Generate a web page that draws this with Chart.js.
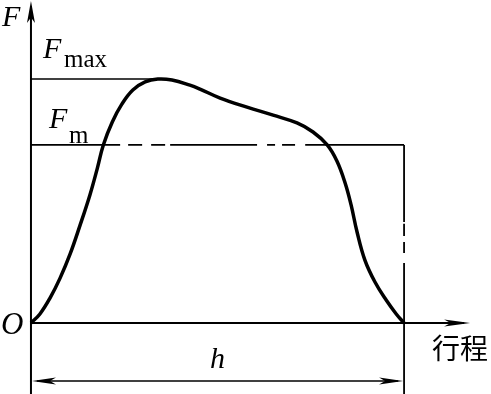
<!DOCTYPE html>
<html>
<head>
<meta charset="utf-8">
<script src="https://cdn.jsdelivr.net/npm/chart.js@4"></script>
<style>
  html, body { margin: 0; background: #fff; }
  #wrap { width: 491px; height: 394px; }
</style>
</head>
<body>
<div id="wrap"><canvas id="myChart"></canvas></div>
<script>
// stroke position (h = 1) and press force (Fmax = 1)
const stroke = [0, 0.024, 0.051, 0.078, 0.105, 0.131, 0.158, 0.178, 0.194, 0.218, 0.244, 0.273, 0.306, 0.340, 0.378, 0.426, 0.453, 0.507, 0.579, 0.649, 0.713, 0.756, 0.794, 0.820, 0.842, 0.858, 0.874, 0.895, 0.922, 0.952, 0.979, 1.0];
const force  = [0, 0.037, 0.102, 0.184, 0.283, 0.398, 0.525, 0.635, 0.730, 0.824, 0.898, 0.955, 0.988, 1.0, 0.996, 0.975, 0.959, 0.922, 0.885, 0.852, 0.820, 0.783, 0.730, 0.664, 0.574, 0.484, 0.373, 0.258, 0.168, 0.094, 0.037, 0];

const h = 1;
const fMax = 1;
const fM = 0.73;
const peakX = 0.36;

// where the Fm line and the right edge line break into dashes
const fmBreaks = [0, 0.239, 0.373, 0.606, 0.735, h];
const fmDash = [[], [0, 8, 14, 9, 14, 60], [], [0, 10, 8, 7, 13, 60], []];
const edgeBreaks = [fM, 0.443, 0.246, -0.3];
const edgeDash = [[], [0, 11, 10, 6, 11, 40], []];

const xMin = -0.083, xMax = 1.233, yMin = -0.291, yMax = 1.324;

const curve = stroke.map((x, i) => ({ x: x, y: force[i] }));

function arrow(c, tx, ty, dx, dy, len, half) {
  const bx = tx - dx * len, by = ty - dy * len;
  const nx = -dy, ny = dx;
  c.beginPath();
  c.moveTo(tx, ty);
  c.lineTo(bx + nx * half, by + ny * half);
  c.lineTo(tx - dx * len * 0.75, ty - dy * len * 0.75);
  c.lineTo(bx - nx * half, by - ny * half);
  c.closePath();
  c.fill();
}

const axesPlugin = {
  id: 'axesPlugin',
  beforeDatasetsDraw(chart) {
    const c = chart.ctx, xs = chart.scales.x, ys = chart.scales.y;
    const x0 = xs.getPixelForValue(0), y0 = ys.getPixelForValue(0);
    c.save();
    c.strokeStyle = '#000';
    c.fillStyle = '#000';
    c.lineWidth = 2;
    // y axis, running down past O as an extension line
    c.beginPath();
    c.moveTo(x0, ys.getPixelForValue(yMin));
    c.lineTo(x0, ys.getPixelForValue(yMax) + 6);
    c.stroke();
    arrow(c, x0, ys.getPixelForValue(yMax) + 1, 0, -1, 22, 4);
    // x axis
    const xEnd = xs.getPixelForValue(1.177);
    c.beginPath();
    c.moveTo(x0, y0);
    c.lineTo(xEnd - 6, y0);
    c.stroke();
    arrow(c, xEnd, y0, 1, 0, 26, 3.5);
    // dimension line h
    const yd = ys.getPixelForValue(-0.238);
    const xh = xs.getPixelForValue(h);
    c.lineWidth = 1.6;
    c.beginPath();
    c.moveTo(x0 + 6, yd);
    c.lineTo(xh - 6, yd);
    c.stroke();
    arrow(c, x0 + 1, yd, -1, 0, 24, 3.5);
    arrow(c, xh - 1, yd, 1, 0, 24, 3.5);
    c.restore();
  },
  afterDatasetsDraw(chart) {
    const c = chart.ctx, xs = chart.scales.x, ys = chart.scales.y;
    const x0 = xs.getPixelForValue(0), y0 = ys.getPixelForValue(0);
    const serif = '"Liberation Serif", "DejaVu Serif", serif';
    c.save();
    c.fillStyle = '#000';
    c.textBaseline = 'alphabetic';
    c.textAlign = 'left';
    c.font = 'italic 30px ' + serif;
    c.fillText('F', x0 - 29, 26);
    const yMaxPx = ys.getPixelForValue(fMax);
    c.fillText('F', x0 + 12, yMaxPx - 21);
    c.font = '25px ' + serif;
    c.fillText('max', x0 + 33, yMaxPx - 12);
    const yMPx = ys.getPixelForValue(fM);
    c.font = 'italic 30px ' + serif;
    c.fillText('F', x0 + 18, yMPx - 17);
    c.font = '25px ' + serif;
    c.fillText('m', x0 + 38, yMPx - 2);
    c.font = 'italic 31px ' + serif;
    c.fillText('O', x0 - 30, y0 + 11);
    c.font = 'italic 30px ' + serif;
    c.textAlign = 'center';
    c.fillText('h', xs.getPixelForValue(h / 2), y0 + 45);
    c.textAlign = 'left';
    c.font = '28px "Noto Sans CJK SC", sans-serif';
    c.fillText('行程', xs.getPixelForValue(1.075), y0 + 36);
    c.restore();
  }
};

new Chart(document.getElementById('myChart'), {
  type: 'scatter',
  data: {
    datasets: [
      {
        label: 'F',
        data: curve,
        showLine: true,
        borderColor: '#000',
        borderWidth: 3.5,
        pointRadius: 0,
        tension: 0.4
      },
      {
        label: 'Fmax',
        data: [{ x: 0, y: fMax }, { x: peakX, y: fMax }],
        showLine: true,
        borderColor: '#000',
        borderWidth: 1.6,
        pointRadius: 0
      },
      {
        label: 'Fm',
        data: fmBreaks.map(x => ({ x: x, y: fM })),
        showLine: true,
        borderColor: '#000',
        borderWidth: 1.6,
        pointRadius: 0,
        segment: { borderDash: ctx => fmDash[ctx.p0DataIndex] }
      },
      {
        label: 'edge',
        data: edgeBreaks.map(y => ({ x: h, y: y })),
        showLine: true,
        borderColor: '#000',
        borderWidth: 1.8,
        pointRadius: 0,
        segment: { borderDash: ctx => edgeDash[ctx.p0DataIndex] }
      }
    ]
  },
  options: {
    responsive: true,
    maintainAspectRatio: false,
    animation: false,
    layout: { padding: 0 },
    plugins: { legend: { display: false }, tooltip: { enabled: false } },
    scales: {
      x: { type: 'linear', min: xMin, max: xMax, display: false },
      y: { type: 'linear', min: yMin, max: yMax, display: false }
    }
  },
  plugins: [axesPlugin]
});
</script>
</body>
</html>
